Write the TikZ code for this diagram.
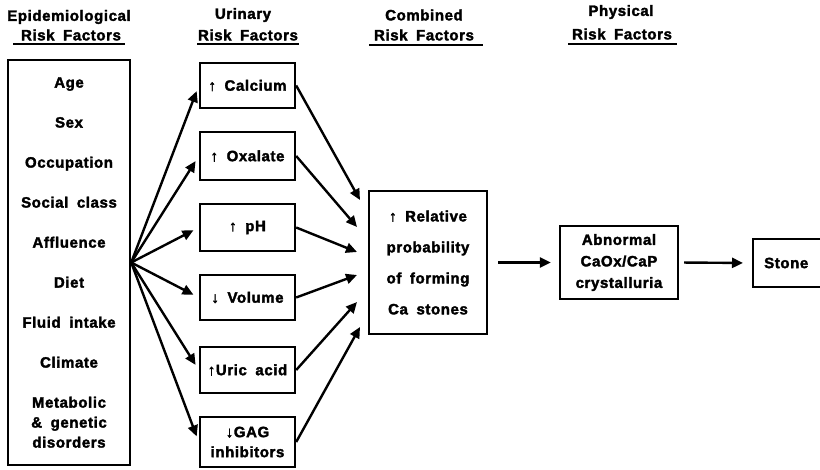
\documentclass[tikz,border=0pt]{standalone}
\usepackage{fontspec}
\setmainfont{Liberation Sans}[LetterSpace=4, WordSpace=1.8, BoldFeatures={FakeBold=2.2}]
\usetikzlibrary{arrows.meta}

\begin{document}
\begin{tikzpicture}[x=1pt, y=-1pt,
  txt/.style={font=\fontsize{15}{20}\selectfont\bfseries, inner sep=0pt},
  box/.style={txt, draw, line width=2.4pt, align=center},
  arr/.style={line width=2.4pt, -{Triangle[length=11pt,width=10pt]}},
  uline/.style={line width=2pt}]

\clip (0,0) rectangle (820,469);

% column headings
\node[txt] (h1a) at (69,17) {Epidemiological};
\node[txt] (h1b) at (71,35) {Risk Factors};
\node[txt] (h2a) at (243,15) {Urinary};
\node[txt] (h2b) at (248,35) {Risk Factors};
\node[txt] (h3a) at (424,15) {Combined};
\node[txt] (h3b) at (424,35) {Risk Factors};
\node[txt] (h4a) at (621,12) {Physical};
\node[txt] (h4b) at (622,34) {Risk Factors};
\draw[uline] (13,44) -- (125,44);
\draw[uline] (197,44) -- (299,44);
\draw[uline] (369,45) -- (483,45);
\draw[uline] (568,44) -- (677,44);

% epidemiological factors
\node[box, minimum width=122, minimum height=405] (epi) at (69,262.5)
  {Age\\[20pt]Sex\\[20pt]Occupation\\[20pt]Social class\\[20pt]Affluence\\[20pt]Diet\\[20pt]Fluid intake\\[20pt]Climate\\[20pt]Metabolic\\\& genetic\\disorders};

% urinary factors
\node[box, minimum width=95, minimum height=45] (calc) at (247.5,85.5) {↑ Calcium};
\node[box, minimum width=95, minimum height=48] (oxa)  at (247.5,156) {↑ Oxalate};
\node[box, minimum width=95, minimum height=47] (ph)   at (247.5,227.5) {↑ pH};
\node[box, minimum width=95, minimum height=45] (vol)  at (247.5,297.5) {↓ Volume};
\node[box, minimum width=95, minimum height=46] (uric) at (247.5,370) {↑Uric acid};
\node[box, minimum width=95, minimum height=50] (gag)  at (247.5,442) {↓GAG\\inhibitors};

% combined, physical, outcome
\node[box, minimum width=118, minimum height=143, font=\fontsize{15}{31}\selectfont\bfseries] (comb) at (428,262.5)
  {↑ Relative\\probability\\of forming\\Ca stones};
\node[box, minimum width=118, minimum height=73, font=\fontsize{15}{21.5}\selectfont\bfseries] (crys) at (619,262.5)
  {Abnormal\\CaOx/CaP\\crystalluria};
\node[box, anchor=west, minimum height=48, text width=68, inner xsep=11pt, align=left] (stone) at (752,263) {Stone};

% arrows from epidemiological to urinary factors
\foreach \n in {calc,oxa,ph,vol,uric,gag}
  \draw[arr, shorten >=6pt] (epi.east) -- (\n.west);

% arrows converging on the combined box
\coordinate (t1) at (360,200);
\coordinate (t2) at (357,227);
\coordinate (t3) at (357,252);
\coordinate (t4) at (357,275);
\coordinate (t5) at (357,302);
\coordinate (t6) at (360,327);
\draw[arr] (calc.east) -- (t1);
\draw[arr] (oxa.east) -- (t2);
\draw[arr] (ph.east) -- (t3);
\draw[arr] (vol.east) -- (t4);
\draw[arr] (uric.east) -- (t5);
\draw[arr] (gag.east) -- (t6);

% chain to stone
\draw[arr, shorten <=10pt, shorten >=8pt] (comb.east) -- (crys.west);
\draw[arr, shorten <=5pt, shorten >=9pt] (crys.east) -- (stone.west);
\end{tikzpicture}
\end{document}
